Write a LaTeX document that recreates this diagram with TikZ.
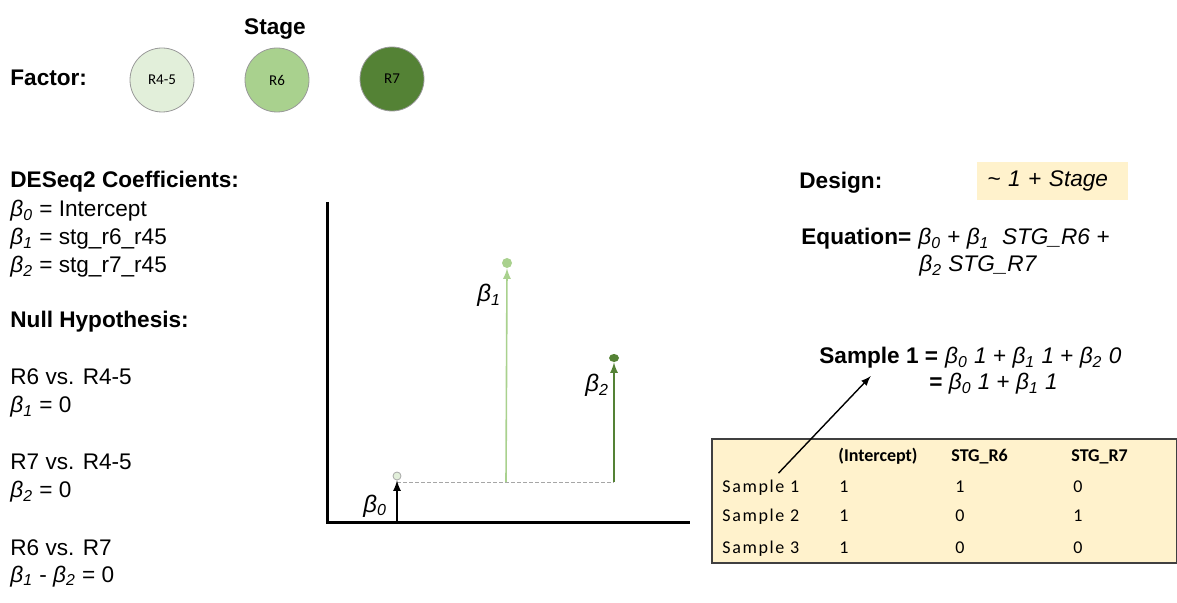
\documentclass[tikz,border=0pt]{standalone}
\usepackage{fontspec}
\setmainfont{Liberation Sans}
\newfontfamily\tabfont{Carlito}
\newfontfamily\tabspaced[LetterSpace=9]{Carlito}
\usepackage{tikz}
\usetikzlibrary{shapes.geometric}

\definecolor{stglight}{HTML}{E2EFDA}
\definecolor{stgmid}{HTML}{A9D18E}
\definecolor{stgdark}{HTML}{548235}
\definecolor{boxfill}{HTML}{FFF2CC}

\newcommand{\bcoef}[1]{\textit{β\textsubscript{#1}}}

\begin{document}
\begin{tikzpicture}[x=0.5pt, y=-0.5pt, >=latex,
    txt/.style={anchor=base west, inner sep=0pt, font=\fontsize{11.3}{13}\selectfont},
    hdr/.style={txt, font=\fontsize{11.3}{13}\selectfont\bfseries},
    stagec/.style={circle, draw=gray!80, minimum size=32pt, inner sep=0pt, font=\tabfont\fontsize{7.5}{9}\selectfont},
    cell/.style={anchor=base west, inner sep=0pt, font=\tabfont\fontsize{9}{11}\selectfont},
    lbl/.style={anchor=base west, inner sep=0pt, font=\fontsize{12}{14}\selectfont}]

    \useasboundingbox (0,0) rectangle (1177,603);

    % factor levels
    \node[hdr, anchor=base] (stage) at (275,35) {Stage};
    \node[hdr] (factor) at (10,86) {Factor:};
    \node[stagec, fill=stglight] (r45) at (162,80) {R4-5};
    \node[stagec, fill=stgmid] (r6) at (277,80) {R6};
    \node[stagec, fill=stgdark] (r7) at (392,79) {R7};

    % coefficients
    \node[hdr] (coefhd) at (10,188) {DESeq2 Coefficients:};
    \node[txt] (c0) at (10,217) {\bcoef{0} = Intercept};
    \node[txt] (c1) at (10,245) {\bcoef{1} = stg\_r6\_r45};
    \node[txt] (c2) at (10,273) {\bcoef{2} = stg\_r7\_r45};

    % null hypotheses
    \node[hdr] (nullhd) at (10,328) {Null Hypothesis:};
    \node[txt] (h1a) at (10,385) {R6 vs. R4-5};
    \node[txt] (h1b) at (10,413) {\bcoef{1} = 0};
    \node[txt] (h2a) at (10,470) {R7 vs. R4-5};
    \node[txt] (h2b) at (10,498) {\bcoef{2} = 0};
    \node[txt] (h3a) at (10,555) {R6 vs. R7};
    \node[txt] (h3b) at (10,582) {\bcoef{1} - \bcoef{2} = 0};

    % axes
    \coordinate (ytop) at (327,202);
    \coordinate (origin) at (327,523);
    \coordinate (xend) at (690,523);
    \draw[line width=1.5pt] (ytop) -- (origin) -- (xend);

    % fitted levels
    \node[circle, draw=gray!70, fill=stglight, inner sep=0pt, minimum size=4pt] (d0) at (397,476) {};
    \node[circle, fill=stgmid, inner sep=0pt, minimum size=5pt] (d1) at (507,263) {};
    \node[ellipse, fill=stgdark, inner sep=0pt, minimum width=5pt, minimum height=4pt] (d2) at (614,358) {};

    \coordinate (b0foot) at (397,523);
    \coordinate (b0top) at (397,482);
    \coordinate (b1foot) at (506,482);
    \coordinate (b2foot) at (614,482);
    \draw[dashed, gray!70, dash pattern=on 2pt off 1pt] (b0top) -- (b2foot);
    \draw[->, line width=0.8pt] (b0foot) -- (d0.south);
    \draw[->, line width=0.8pt, stgmid] (b1foot) -- (d1.south);
    \draw[->, line width=0.8pt, stgdark] (b2foot) -- (d2.south);

    \node[lbl] (l0) at (363,512) {\bcoef{0}};
    \node[lbl] (l1) at (477,302) {\bcoef{1}};
    \node[lbl] (l2) at (585,392) {\bcoef{2}};

    % design and model
    \node[hdr] (design) at (799,189) {Design:};
    \node[anchor=west, fill=boxfill, inner xsep=5pt, text width=65.5pt, minimum height=19pt,
        font=\fontsize{11.3}{13}\selectfont] (formula) at (977,181) {\textit{\textasciitilde{} 1 + Stage}};
    \node[hdr] (eqhd) at (801,245) {Equation=};
    \node[txt] (eq1) at (eqhd.base east) {~\bcoef{0} + \bcoef{1}~ \textit{STG\_R6 +}};
    \node[txt] (eq2) at (919,272) {\bcoef{2} \textit{STG\_R7}};

    \node[hdr] (samphd) at (819,364) {Sample 1 =};
    \node[txt] (samp1) at (samphd.base east) {~\bcoef{0} \textit{1} + \bcoef{1} \textit{1} + \bcoef{2} \textit{0}};
    \node[txt] (samp2) at (929,390) {\textbf{=} \bcoef{0} \textit{1} + \bcoef{1} \textit{1}};

    % design matrix
    \draw[fill=boxfill, draw=black!75, line width=0.8pt] (712,439) rectangle (1176.5,563);
    \node[cell, font=\tabfont\fontsize{9}{11}\selectfont\bfseries] (cint) at (838,462) {(Intercept)};
    \node[cell, font=\tabfont\fontsize{9}{11}\selectfont\bfseries] (cr6) at (951,462) {STG\_R6};
    \node[cell, font=\tabfont\fontsize{9}{11}\selectfont\bfseries] (cr7) at (1071,462) {STG\_R7};

    \node[cell, font=\tabspaced\fontsize{9}{11}\selectfont] (s1) at (722,493) {Sample 1};
    \node[cell] (s1a) at (839,493) {1};
    \node[cell] (s1b) at (955,493) {1};
    \node[cell] (s1c) at (1073,493) {0};
    \node[cell, font=\tabspaced\fontsize{9}{11}\selectfont] (s2) at (722,522) {Sample 2};
    \node[cell] (s2a) at (839,522) {1};
    \node[cell] (s2b) at (955,522) {0};
    \node[cell] (s2c) at (1073,522) {1};
    \node[cell, font=\tabspaced\fontsize{9}{11}\selectfont] (s3) at (722,553) {Sample 3};
    \node[cell] (s3a) at (839,553) {1};
    \node[cell] (s3b) at (955,553) {0};
    \node[cell] (s3c) at (1073,553) {0};

    % row to equation
    \draw[->, line width=0.7pt] ([shift={(-21,-7)}]s1.north east) -- ([shift={(-8,7)}]samphd.south);

\end{tikzpicture}
\end{document}
